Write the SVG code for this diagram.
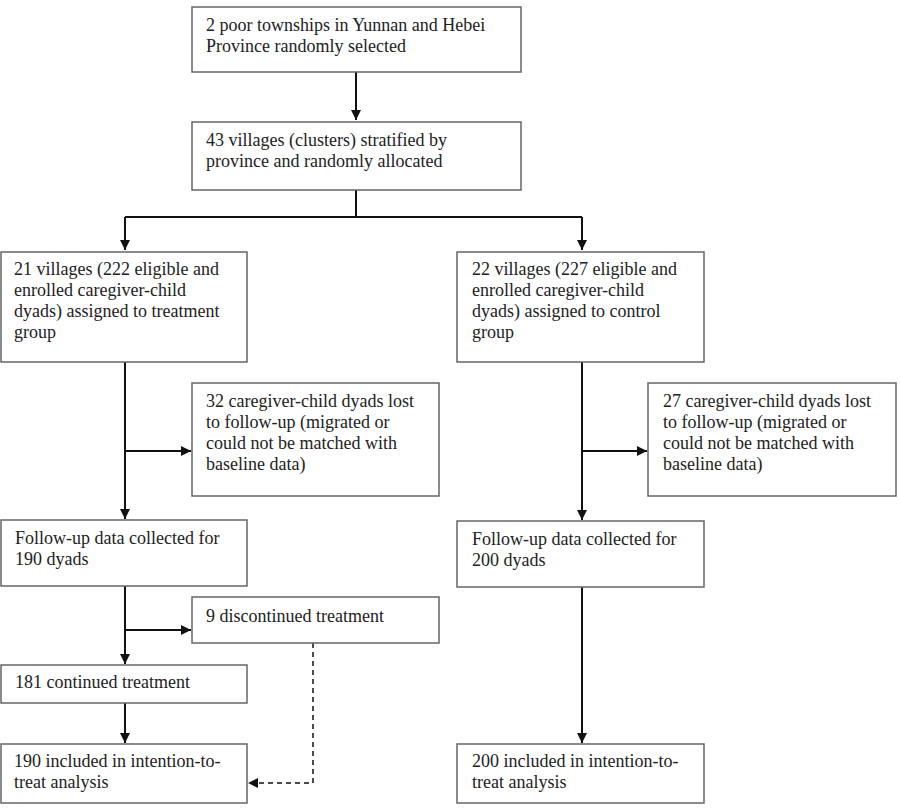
<svg xmlns="http://www.w3.org/2000/svg" width="900" height="808" viewBox="0 0 900 808">
<defs>
<marker id="ah" viewBox="0 0 10 10" refX="10" refY="5" markerWidth="10" markerHeight="10" markerUnits="userSpaceOnUse" orient="auto">
<path d="M0,0 L10,5 L0,10 z" fill="#111"/>
</marker>
</defs>
<style>
.box{fill:#fff;stroke:#666;stroke-width:1.5}
.t{font-family:"Liberation Serif","Times New Roman",serif;font-size:18px;fill:#222}
.c{fill:none;stroke:#111;stroke-width:2}
.d{fill:none;stroke:#111;stroke-width:1.5;stroke-dasharray:5 4}
</style>
<rect width="900" height="808" fill="#fff"/>
<g id="connectors">
<path class="c" d="M356,72 V120" marker-end="url(#ah)"/>
<path class="c" d="M356,190 V217"/>
<path class="c" d="M125,217 H582"/>
<path class="c" d="M125,217 V250" marker-end="url(#ah)"/>
<path class="c" d="M582,217 V250" marker-end="url(#ah)"/>
<path class="c" d="M125,362 V519" marker-end="url(#ah)"/>
<path class="c" d="M125,451 H191" marker-end="url(#ah)"/>
<path class="c" d="M582,362 V520" marker-end="url(#ah)"/>
<path class="c" d="M582,451 H647" marker-end="url(#ah)"/>
<path class="c" d="M125,586 V664" marker-end="url(#ah)"/>
<path class="c" d="M125,630 H191" marker-end="url(#ah)"/>
<path class="c" d="M125,703 V743" marker-end="url(#ah)"/>
<path class="c" d="M582,587 V743" marker-end="url(#ah)"/>
<path class="d" d="M313,643 V783 H258"/>
<path d="M248,783 L258,778 L258,788 z" fill="#111"/>
</g>
<g id="n1">
<rect class="box" x="192" y="7" width="329" height="65"/>
<text class="t" x="206" y="31">2 poor townships in Yunnan and Hebei</text>
<text class="t" x="206" y="52">Province randomly selected</text>
</g>
<g id="n2">
<rect class="box" x="192" y="122" width="329" height="68"/>
<text class="t" x="206" y="146">43 villages (clusters) stratified by</text>
<text class="t" x="206" y="167">province and randomly allocated</text>
</g>
<g id="n3">
<rect class="box" x="1" y="252" width="246" height="110"/>
<text class="t" x="14" y="275">21 villages (222 eligible and</text>
<text class="t" x="14" y="296">enrolled caregiver-child</text>
<text class="t" x="14" y="317">dyads) assigned to treatment</text>
<text class="t" x="14" y="338">group</text>
</g>
<g id="n4">
<rect class="box" x="457" y="252" width="247" height="110"/>
<text class="t" x="472" y="275">22 villages (227 eligible and</text>
<text class="t" x="472" y="296">enrolled caregiver-child</text>
<text class="t" x="472" y="317">dyads) assigned to control</text>
<text class="t" x="472" y="338">group</text>
</g>
<g id="n5">
<rect class="box" x="192" y="383" width="247" height="113"/>
<text class="t" x="206" y="407">32 caregiver-child dyads lost</text>
<text class="t" x="206" y="428">to follow-up (migrated or</text>
<text class="t" x="206" y="449">could not be matched with</text>
<text class="t" x="206" y="470">baseline data)</text>
</g>
<g id="n6">
<rect class="box" x="648" y="383" width="248" height="113"/>
<text class="t" x="663" y="407">27 caregiver-child dyads lost</text>
<text class="t" x="663" y="428">to follow-up (migrated or</text>
<text class="t" x="663" y="449">could not be matched with</text>
<text class="t" x="663" y="470">baseline data)</text>
</g>
<g id="n7">
<rect class="box" x="1" y="520" width="246" height="66"/>
<text class="t" x="15" y="544">Follow-up data collected for</text>
<text class="t" x="15" y="565">190 dyads</text>
</g>
<g id="n8">
<rect class="box" x="457" y="521" width="247" height="66"/>
<text class="t" x="472" y="545">Follow-up data collected for</text>
<text class="t" x="472" y="566">200 dyads</text>
</g>
<g id="n9">
<rect class="box" x="192" y="597" width="247" height="46"/>
<text class="t" x="206" y="622">9 discontinued treatment</text>
</g>
<g id="n10">
<rect class="box" x="1" y="665" width="246" height="38"/>
<text class="t" x="15" y="688">181 continued treatment</text>
</g>
<g id="n11">
<rect class="box" x="1" y="744" width="246" height="59"/>
<text class="t" x="14" y="767">190 included in intention-to-</text>
<text class="t" x="14" y="788">treat analysis</text>
</g>
<g id="n12">
<rect class="box" x="457" y="744" width="247" height="59"/>
<text class="t" x="472" y="767">200 included in intention-to-</text>
<text class="t" x="472" y="788">treat analysis</text>
</g>
</svg>
